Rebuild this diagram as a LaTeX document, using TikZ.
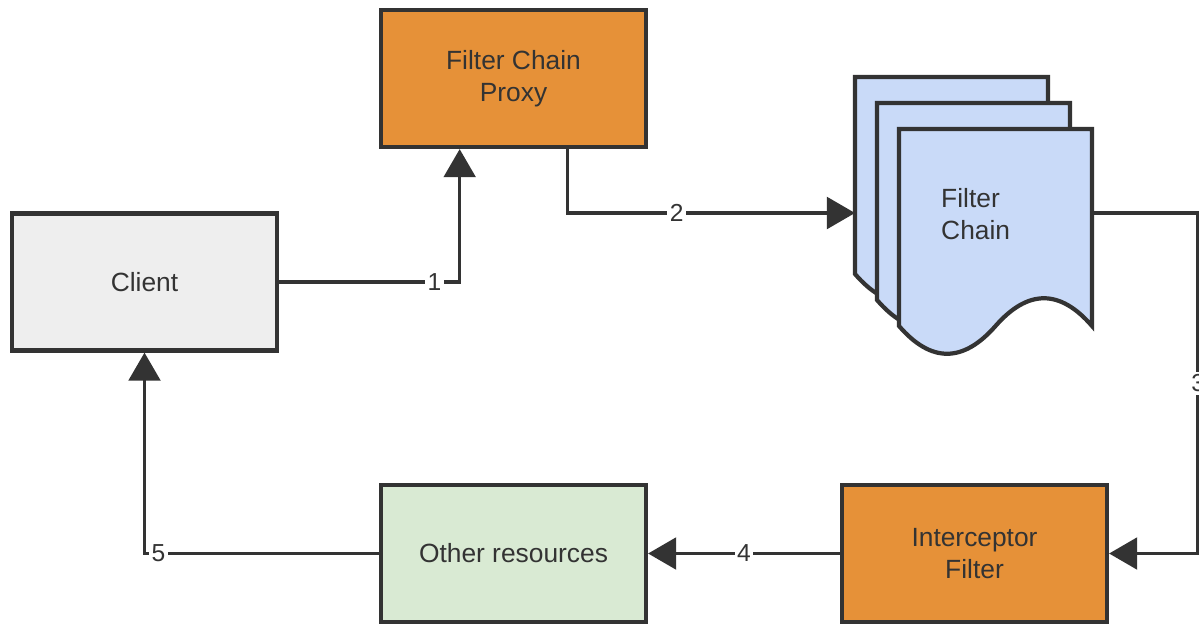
\documentclass[tikz,border=0pt]{standalone}
\usepackage{fontspec}
\setmainfont{Liberation Sans}
\usepackage{xcolor}
\usepackage{tikz}
\usetikzlibrary{arrows.meta,calc}

\definecolor{edgegray}{HTML}{333333}
\definecolor{boxorange}{HTML}{E69138}
\definecolor{boxgray}{HTML}{EEEEEE}
\definecolor{boxgreen}{HTML}{D9EAD3}
\definecolor{boxblue}{HTML}{C9DAF8}

% one sheet of the stacked document shape, top left corner at #1,#2
\newcommand{\docpage}[2]{%
  \begin{scope}[shift={(#1,#2)}]
    \draw[sheet] (0,0) -- (193,0) -- (193,197)
      .. controls (161,160) and (129,160) .. (96.5,197)
      .. controls (64,234) and (32,234) .. (0,197) -- cycle;
  \end{scope}}

\begin{document}
\begin{tikzpicture}[x=0.02cm,y=-0.02cm,
    box/.style={draw=edgegray,line width=2.4pt,minimum width=5.3cm,minimum height=2.74cm,
      align=center,text=edgegray,font={\fontsize{15}{18.5}\selectfont}},
    sheet/.style={draw=edgegray,line width=2.4pt,fill=boxblue},
    flow/.style={draw=edgegray,line width=2pt,-{Triangle[length=16pt,width=18pt]}},
    num/.style={fill=white,text=edgegray,inner sep=1.5pt,font={\fontsize{14}{16}\selectfont}}]
    \useasboundingbox (0,0) rectangle (1199,623);
    \clip (0,0) rectangle (1199,623);

    % Boxes
    \node[box,fill=boxgray] (client) at (144.5,282) {Client};
    \node[box,fill=boxorange] (proxy) at (513.5,78.5) {Filter Chain\\Proxy};
    \node[box,fill=boxgreen] (other) at (513.5,553.5) {Other resources};
    \node[box,fill=boxorange] (icpt) at (974.5,553.5) {Interceptor\\Filter};

    % Filter chain stack
    \docpage{855}{77}
    \docpage{877}{103}
    \docpage{899}{129}
    \node[minimum width=4.74cm,minimum height=5.44cm,inner sep=0pt,outer sep=0pt] (fchain) at (973.5,213) {};
    \node[text=edgegray,align=left,anchor=west,font={\fontsize{15}{18.5}\selectfont}] (fctext) at (935,214) {Filter\\Chain};

    % Numbered steps
    \draw[flow] (client.east) -| node[num,pos=0.43] {1} ($(proxy.south west)!0.3!(proxy.south east)$);
    \draw[flow] ($(proxy.south west)!0.7!(proxy.south east)$) |- node[num,pos=0.69] {2} (fchain.west);
    \draw[flow] (fchain.east) -| node[num,pos=0.75] {3} ($(icpt.east)+(89,0)$) -- (icpt.east);
    \draw[flow] (icpt.west) -- node[num] {4} (other.east);
    \draw[flow] (other.west) -| node[num,pos=0.47] {5} (client.south);
\end{tikzpicture}
\end{document}
